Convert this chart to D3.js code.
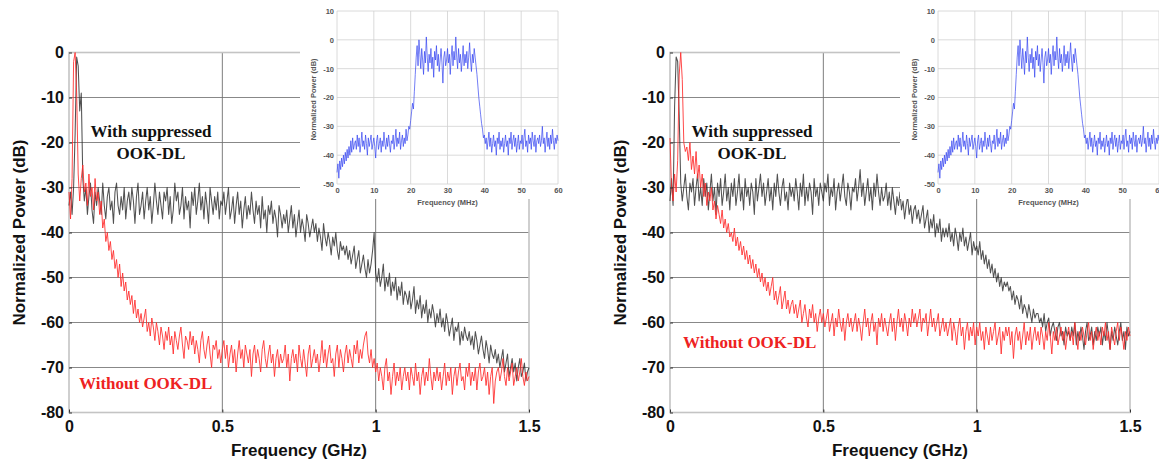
<!DOCTYPE html>
<html>
<head>
<meta charset="utf-8">
<script src="https://cdn.jsdelivr.net/npm/d3@7"></script>
<style>
  html, body { margin: 0; padding: 0; background: #fff; }
  svg { display: block; }
</style>
</head>
<body>
<svg id="chart" width="1159" height="465"></svg>
<script>
// Spectra sampled every 0.005 GHz from 0 to 1.5 GHz (301 samples each).
const freqStepGHz = 0.005;

// Panel (a): suppressed OOK-DL (black) and no OOK-DL (red)
const leftWithDL = [
  -34,-31,-36,-30,-18,-1,-3,-13,-9,-28,-33,-30,-36,-32,-29,-35,-38,-31,-34,-30,
  -33,-36,-29,-34,-37,-32,-30,-35,-33,-38,-31,-29,-34,-36,-32,-35,-30,-37,-33,-31,
  -35,-30,-33,-38,-32,-29,-36,-34,-31,-37,-33,-30,-35,-32,-38,-34,-29,-33,-36,-31,
  -34,-37,-31,-33,-30,-36,-32,-38,-35,-29,-33,-31,-36,-34,-30,-37,-32,-35,-33,-39,
  -31,-34,-30,-36,-33,-29,-35,-32,-37,-31,-34,-38,-30,-33,-36,-32,-35,-31,-37,-33,
  -34,-31,-36,-33,-30,-37,-35,-32,-38,-34,-31,-36,-33,-39,-35,-32,-37,-34,-36,-31,
  -35,-38,-33,-36,-34,-39,-32,-37,-35,-40,-34,-36,-33,-38,-35,-37,-41,-34,-36,-39,
  -36,-38,-35,-40,-37,-34,-39,-36,-41,-38,-35,-40,-37,-39,-42,-36,-38,-41,-39,-37,
  -40,-38,-42,-39,-41,-44,-38,-41,-43,-40,-42,-45,-41,-43,-40,-44,-46,-42,-44,-43,
  -45,-43,-46,-44,-47,-45,-43,-48,-46,-44,-49,-47,-45,-48,-50,-46,-49,-47,-44,-40,
  -49,-51,-48,-52,-50,-47,-53,-50,-52,-49,-54,-51,-53,-50,-55,-52,-54,-51,-56,-53,
  -54,-56,-53,-57,-55,-52,-58,-55,-57,-54,-59,-56,-58,-55,-60,-57,-59,-56,-58,-61,
  -58,-60,-57,-61,-59,-62,-58,-60,-63,-61,-59,-64,-61,-62,-60,-65,-62,-64,-61,-63,
  -64,-62,-65,-63,-66,-62,-64,-67,-65,-63,-66,-68,-64,-66,-69,-65,-67,-68,-66,-69,
  -67,-70,-68,-66,-71,-69,-67,-72,-70,-68,-71,-69,-73,-70,-68,-72,-71,-69,-73,-71,
  -70
];
const leftWithoutDL = [
  -31,-37,-28,-2,0,-9,-27,-33,-28,-25,-31,-29,-34,-27,-32,-30,-35,-28,-33,-31,
  -36,-33,-39,-37,-42,-40,-44,-42,-46,-44,-48,-46,-50,-47,-52,-49,-53,-51,-55,-53,
  -56,-54,-58,-55,-59,-57,-60,-58,-61,-59,-57,-62,-60,-63,-59,-61,-64,-60,-62,-65,
  -61,-63,-66,-62,-64,-61,-65,-63,-67,-62,-64,-66,-63,-61,-65,-68,-63,-64,-66,-62,
  -65,-63,-67,-64,-66,-69,-64,-62,-66,-68,-65,-63,-67,-70,-65,-66,-64,-68,-66,-69,
  -66,-64,-68,-65,-70,-67,-65,-69,-66,-71,-67,-64,-68,-66,-70,-65,-67,-69,-66,-72,
  -67,-65,-69,-66,-68,-71,-66,-64,-68,-70,-67,-65,-69,-67,-72,-68,-66,-70,-67,-69,
  -68,-65,-70,-67,-73,-68,-66,-69,-67,-71,-65,-68,-70,-66,-69,-72,-67,-65,-70,-68,
  -66,-69,-67,-71,-68,-64,-69,-66,-70,-67,-65,-69,-68,-72,-67,-65,-70,-66,-68,-71,
  -67,-65,-69,-66,-68,-70,-65,-67,-64,-69,-66,-68,-65,-63,-62,-67,-69,-66,-70,-68,
  -71,-69,-73,-70,-72,-75,-70,-68,-73,-71,-76,-72,-69,-74,-71,-73,-70,-75,-72,-70,
  -73,-71,-75,-70,-72,-74,-69,-73,-71,-76,-72,-70,-74,-71,-73,-68,-72,-75,-71,-73,
  -70,-73,-71,-75,-72,-69,-74,-71,-73,-70,-76,-72,-70,-74,-71,-69,-73,-72,-75,-70,
  -72,-69,-74,-71,-73,-70,-75,-71,-69,-73,-72,-70,-74,-71,-76,-72,-70,-78,-73,-71,
  -70,-73,-71,-68,-72,-74,-70,-73,-71,-69,-74,-72,-70,-73,-71,-68,-72,-74,-71,-73,
  -72
];

// Panel (b)
const rightWithDL = [
  -33,-28,-34,-12,-1,-2,-14,-29,-33,-30,-27,-32,-35,-29,-31,-28,-34,-30,-27,-33,
  -30,-34,-28,-32,-29,-35,-31,-27,-33,-30,-36,-29,-32,-28,-34,-31,-27,-33,-30,-35,
  -29,-32,-28,-34,-31,-27,-33,-30,-35,-28,-32,-30,-34,-29,-31,-36,-28,-33,-30,-27,
  -32,-29,-34,-31,-28,-33,-30,-35,-29,-32,-27,-31,-34,-30,-28,-33,-31,-35,-29,-32,
  -30,-33,-28,-31,-35,-29,-32,-27,-34,-30,-33,-29,-31,-36,-28,-32,-30,-34,-29,-31,
  -33,-29,-31,-27,-34,-30,-32,-28,-35,-31,-29,-33,-30,-27,-32,-34,-29,-31,-35,-30,
  -31,-28,-33,-30,-26,-32,-29,-34,-31,-28,-33,-30,-35,-29,-32,-27,-31,-34,-30,-33,
  -32,-29,-34,-31,-35,-30,-33,-36,-32,-34,-31,-35,-33,-37,-34,-32,-36,-34,-38,-35,
  -34,-37,-35,-38,-36,-34,-39,-37,-35,-40,-37,-39,-36,-41,-38,-40,-37,-42,-39,-41,
  -39,-41,-38,-42,-40,-43,-39,-41,-44,-40,-42,-39,-43,-41,-44,-42,-40,-45,-42,-44,
  -43,-45,-42,-46,-44,-47,-45,-48,-46,-49,-47,-50,-48,-51,-49,-52,-50,-53,-51,-52,
  -51,-53,-52,-55,-53,-56,-54,-55,-57,-54,-58,-56,-57,-59,-56,-58,-60,-57,-59,-58,
  -58,-60,-59,-61,-58,-62,-60,-59,-63,-61,-60,-62,-64,-61,-60,-63,-62,-65,-61,-63,
  -62,-64,-61,-63,-60,-65,-62,-64,-61,-63,-66,-62,-60,-64,-63,-61,-65,-62,-64,-61,
  -63,-61,-65,-62,-64,-60,-63,-66,-62,-64,-61,-63,-65,-62,-60,-64,-62,-66,-61,-63,
  -62
];
const rightWithoutDL = [
  -19,-30,-33,-27,-31,-24,-5,0,-6,-20,-22,-21,-24,-20,-26,-23,-27,-22,-28,-25,
  -30,-27,-32,-29,-34,-31,-33,-30,-35,-33,-37,-34,-36,-38,-35,-39,-37,-40,-38,-41,
  -40,-42,-39,-43,-41,-44,-42,-45,-43,-46,-44,-47,-45,-48,-46,-49,-47,-50,-48,-51,
  -49,-52,-50,-53,-51,-54,-52,-50,-55,-53,-56,-54,-52,-57,-55,-53,-57,-55,-58,-56,
  -55,-58,-56,-59,-57,-55,-60,-58,-56,-59,-61,-57,-59,-56,-60,-58,-62,-59,-57,-60,
  -58,-61,-59,-57,-62,-60,-58,-63,-59,-61,-57,-60,-62,-59,-64,-60,-58,-61,-59,-62,
  -60,-58,-62,-59,-61,-64,-60,-57,-61,-59,-63,-60,-58,-62,-60,-65,-59,-61,-58,-62,
  -59,-61,-63,-60,-58,-62,-59,-64,-60,-57,-61,-59,-62,-58,-60,-63,-59,-61,-57,-60,
  -58,-61,-59,-57,-62,-59,-60,-58,-63,-60,-57,-61,-59,-62,-60,-58,-63,-61,-59,-62,
  -60,-63,-61,-59,-64,-60,-62,-65,-61,-59,-63,-61,-66,-62,-60,-64,-61,-63,-60,-65,
  -61,-63,-60,-64,-62,-66,-61,-63,-65,-61,-64,-62,-60,-65,-63,-61,-67,-62,-64,-61,
  -63,-61,-65,-62,-68,-63,-61,-64,-62,-66,-63,-60,-65,-62,-64,-61,-66,-63,-61,-64,
  -62,-65,-61,-63,-66,-62,-64,-60,-63,-67,-62,-64,-61,-65,-63,-61,-64,-62,-66,-63,
  -61,-64,-62,-65,-60,-63,-66,-62,-64,-61,-63,-65,-62,-60,-64,-62,-66,-63,-61,-64,
  -62,-65,-61,-63,-60,-64,-62,-66,-61,-63,-65,-62,-60,-64,-61,-63,-66,-62,-64,-61,
  -63
];

// Inset: downlink band spectrum, 0–60 MHz every 0.25 MHz (241 samples)
const insetStepMHz = 0.25;
const insetSpectrum = [
  -46,-43,-48,-42,-45,-41,-44,-40,-43,-39,-42,-38,-41,-37,-40,-35,-39,-34,-38,-36,
  -35,-38,-33,-37,-34,-39,-36,-32,-37,-35,-38,-33,-36,-40,-34,-37,-35,-33,-38,-36,
  -34,-37,-41,-35,-33,-38,-36,-34,-39,-35,-37,-32,-36,-38,-34,-37,-33,-36,-39,-35,
  -36,-33,-38,-35,-31,-37,-34,-36,-32,-38,-35,-33,-37,-34,-36,-31,-35,-33,-30,-31,
  -28,-25,-22,-24,-18,-12,-6,-2,-9,0,-5,-10,-3,-7,-12,-4,-8,1,-6,-11,
  -5,-8,-3,-10,-6,-13,-4,-7,-2,-9,-5,-11,-7,-3,-8,-15,-6,-4,-9,-7,
  -3,-8,-5,-12,-6,-2,-9,-4,-7,1,-6,-10,-3,-8,-5,-11,-7,-2,-9,-5,
  -8,-4,-10,-6,-1,-7,-11,-5,-8,-3,-6,-9,-12,-16,-20,-23,-26,-29,-31,-34,
  -33,-36,-34,-38,-35,-32,-37,-34,-39,-36,-33,-37,-35,-40,-34,-36,-32,-38,-35,-37,
  -34,-39,-36,-33,-37,-35,-40,-34,-36,-32,-38,-35,-33,-37,-34,-39,-36,-33,-38,-35,
  -36,-33,-38,-34,-31,-37,-35,-39,-33,-36,-34,-38,-32,-35,-37,-33,-39,-35,-34,-36,
  -33,-37,-35,-30,-36,-34,-39,-35,-32,-37,-34,-38,-33,-36,-31,-35,-38,-34,-36,-33,
  -35
];

const xTicksGHz = [0, 0.5, 1, 1.5];
const yTicksDB = [-80, -70, -60, -50, -40, -30, -20, -10, 0];
const insetXTicks = [0, 10, 20, 30, 40, 50, 60];
const insetYTicks = [-50, -40, -30, -20, -10, 0, 10];

const svg = d3.select("#chart");
const sansBold = "'Liberation Sans', Arial, sans-serif";
const serif = "'Liberation Serif', 'Times New Roman', serif";

function drawPanel(cfg) {
  const x = d3.scaleLinear().domain([0, 1.5]).range([cfg.left, cfg.right]);
  const y = d3.scaleLinear().domain([-80, 0]).range([412.5, 52.5]);
  const g = svg.append("g");

  // grid
  g.append("g").selectAll("line").data(yTicksDB.filter(d => d > -80))
    .join("line")
    .attr("x1", x(0)).attr("x2", x(1.5))
    .attr("y1", d => y(d)).attr("y2", d => y(d))
    .attr("stroke", "#7a7a7a").attr("stroke-width", 0.9);
  g.append("g").selectAll("line").data([0.5, 1])
    .join("line")
    .attr("x1", d => x(d)).attr("x2", d => x(d))
    .attr("y1", y(0)).attr("y2", y(-80))
    .attr("stroke", "#6e6e6e").attr("stroke-width", 0.9);

  // frame
  g.append("rect")
    .attr("x", x(0)).attr("y", y(0))
    .attr("width", x(1.5) - x(0)).attr("height", y(-80) - y(0))
    .attr("fill", "none").attr("stroke", "#c4c4c4").attr("stroke-width", 1.6);

  // traces
  const line = d3.line()
    .x((d, i) => x(i * freqStepGHz))
    .y(d => y(d));
  g.append("path").datum(cfg.withDL)
    .attr("d", line).attr("fill", "none")
    .attr("stroke", "#262626").attr("stroke-width", 1.05).attr("stroke-opacity", 0.8)
    .attr("stroke-linejoin", "round");
  g.append("path").datum(cfg.withoutDL)
    .attr("d", line).attr("fill", "none")
    .attr("stroke", "#ff2a2a").attr("stroke-width", 1.0).attr("stroke-opacity", 0.85)
    .attr("stroke-linejoin", "round");

  // axes
  const xAxis = d3.axisBottom(x).tickValues(xTicksGHz).tickFormat(d => String(d))
    .tickSizeInner(-3).tickSizeOuter(0).tickPadding(8);
  const gx = g.append("g").attr("transform", `translate(0,${y(-80)})`).call(xAxis);
  const yAxis = d3.axisLeft(y).tickValues(yTicksDB).tickFormat(d => String(d))
    .tickSizeInner(-3).tickSizeOuter(0).tickPadding(5);
  const gy = g.append("g").attr("transform", `translate(${x(0)},0)`).call(yAxis);
  [gx, gy].forEach(a => {
    a.select(".domain").remove();
    a.selectAll(".tick line").attr("stroke", "#333");
    a.selectAll("text").attr("font-family", sansBold).attr("font-weight", "bold")
      .attr("font-size", 16).attr("fill", "#111");
  });

  g.append("text")
    .attr("x", (x(0) + x(1.5)) / 2).attr("y", 456)
    .attr("text-anchor", "middle")
    .attr("font-family", sansBold).attr("font-weight", "bold").attr("font-size", 17)
    .attr("fill", "#111").text("Frequency (GHz)");
  g.append("text")
    .attr("transform", `translate(${cfg.left - 44},${(y(0) + y(-80)) / 2}) rotate(-90)`)
    .attr("text-anchor", "middle")
    .attr("font-family", sansBold).attr("font-weight", "bold").attr("font-size", 17)
    .attr("fill", "#111").text("Normalized Power (dB)");

  // annotations
  const ann = g.append("text")
    .attr("font-family", serif).attr("font-weight", "bold").attr("font-size", 17)
    .attr("fill", "#111").attr("text-anchor", "middle");
  ann.append("tspan").attr("x", cfg.annX).attr("y", 137).text("With suppressed");
  ann.append("tspan").attr("x", cfg.annX).attr("y", 159).text("OOK-DL");
  g.append("text")
    .attr("x", cfg.redX).attr("y", cfg.redY)
    .attr("font-family", serif).attr("font-weight", "bold").attr("font-size", 17)
    .attr("fill", "#ee2222").text("Without OOK-DL");

  drawInset(cfg.inset);
}

function drawInset(c) {
  const g = svg.append("g");
  g.append("rect")
    .attr("x", c.boxX).attr("y", 0).attr("width", c.boxW).attr("height", 199)
    .attr("fill", "#fff");
  const x = d3.scaleLinear().domain([0, 60]).range([c.left, c.left + 221]);
  const y = d3.scaleLinear().domain([-50, 10]).range([184, 11]);

  g.append("g").selectAll("line").data(insetYTicks)
    .join("line")
    .attr("x1", x(0)).attr("x2", x(60)).attr("y1", d => y(d)).attr("y2", d => y(d))
    .attr("stroke", "#d0d0d0").attr("stroke-width", 0.8);
  g.append("g").selectAll("line").data(insetXTicks)
    .join("line")
    .attr("x1", d => x(d)).attr("x2", d => x(d)).attr("y1", y(10)).attr("y2", y(-50))
    .attr("stroke", "#d0d0d0").attr("stroke-width", 0.8);

  const line = d3.line().x((d, i) => x(i * insetStepMHz)).y(d => y(d));
  g.append("path").datum(insetSpectrum)
    .attr("d", line).attr("fill", "none")
    .attr("stroke", "#3040f0").attr("stroke-width", 0.8).attr("stroke-opacity", 0.85)
    .attr("stroke-linejoin", "round");

  const xa = d3.axisBottom(x).tickValues(insetXTicks).tickSize(0).tickPadding(4);
  const ya = d3.axisLeft(y).tickValues(insetYTicks).tickFormat(d => String(d)).tickSize(0).tickPadding(3);
  const gx = g.append("g").attr("transform", `translate(0,${y(-50)})`).call(xa);
  const gy = g.append("g").attr("transform", `translate(${x(0)},0)`).call(ya);
  [gx, gy].forEach(a => {
    a.select(".domain").remove();
    a.selectAll("text").attr("font-family", sansBold).attr("font-size", 7.5)
      .attr("font-weight", "bold").attr("fill", "#555");
  });
  g.append("text")
    .attr("x", (x(0) + x(60)) / 2).attr("y", 205).attr("text-anchor", "middle")
    .attr("font-family", sansBold).attr("font-weight", "bold").attr("font-size", 7.5)
    .attr("fill", "#555").text("Frequency (MHz)");
  g.append("text")
    .attr("transform", `translate(${x(0) - 21},${(y(10) + y(-50)) / 2 + 2}) rotate(-90)`)
    .attr("text-anchor", "middle")
    .attr("font-family", sansBold).attr("font-weight", "bold").attr("font-size", 7.5)
    .attr("fill", "#555").text("Normalized Power (dB)");
}

drawPanel({
  left: 69, right: 529, withDL: leftWithDL, withoutDL: leftWithoutDL,
  annX: 151, redX: 79, redY: 389,
  inset: { left: 337, boxX: 300, boxW: 278 }
});
drawPanel({
  left: 670, right: 1130, withDL: rightWithDL, withoutDL: rightWithoutDL,
  annX: 752, redX: 683, redY: 348,
  inset: { left: 938, boxX: 900, boxW: 259 }
});
</script>
</body>
</html>
